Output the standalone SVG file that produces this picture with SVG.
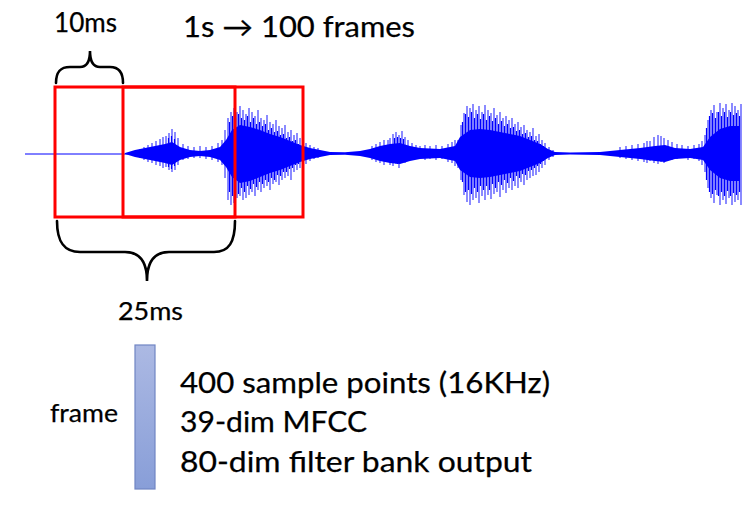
<svg xmlns="http://www.w3.org/2000/svg" width="750" height="506" viewBox="0 0 750 506">
<style>
.t{font-family:Lato,"Liberation Sans",sans-serif;fill:#000;stroke:#000;stroke-width:0.25;}
.frm{fill:none;stroke:#ff0000;stroke-width:3;}
.brace{fill:none;stroke:#000;stroke-width:2.6;stroke-linecap:round;}
.core{fill:#0000ff;}
.spk{fill:none;stroke:#0000ff;stroke-width:1.3;stroke-opacity:0.7;}
.spk2{fill:none;stroke:#0000ff;stroke-width:1.2;}
.flat{fill:none;stroke:#0000ff;stroke-width:1;}
</style>
<defs>
<linearGradient id="barg" x1="0" y1="0" x2="0" y2="1">
<stop offset="0" stop-color="#acb9e3"/>
<stop offset="1" stop-color="#889ed8"/>
</linearGradient>
</defs>
<rect width="750" height="506" fill="#fff"/>
<g id="waveform">
<path class="flat" d="M25,154 H128"/>
<path class="core" d="M125,153 L135,150 145,148 155,146 165,144 172,142 180,147 190,150 200,151 210,150 220,147 226,140 232,130 240,125 250,127 260,130 270,134 280,137 290,141 300,145 310,148 320,150 330,152 345,152.3 360,151 370,149 380,146 390,144 400,143 410,146 420,148 440,149 455,146 460,137 470,130 480,129 490,130 500,132 510,134 520,136 530,140 540,144 548,149 555,152 570,152.6 600,152 620,150 640,148 655,146 665,145 675,148 690,149 703,147 710,137 720,129 730,126 740,126 L740,181 730,181 720,178 710,170 703,160 690,158 675,159 665,162 655,161 640,159 620,157 600,155 570,154.4 555,155 548,158 540,163 530,167 520,171 510,173 500,175 490,177 480,178 470,177 460,170 455,161 440,158 420,159 410,161 400,164 390,163 380,161 370,158 360,156 345,154.7 330,155 320,157 310,159 300,162 290,166 280,170 270,173 260,177 250,181 240,183 232,177 226,167 220,160 210,157 200,156 190,157 180,160 172,165 165,163 155,161 145,159 135,157 125,154 Z"/>
<path class="spk" d="M140,149V158 M144,147V160 M148,145V162 M152,143V163 M156,141V165 M160,139V166 M163,137V168 M166,136V167 M169,133V170 M172,129V172 M175,132V170 M178,138V165 M183,144V160 M188,146V159 M194,147V158 M200,146V158 M206,147V159 M212,146V160 M218,143V162 M222,140V165 M225,130V178 M228,118V200 M231,112V205 M234,108V203 M237,112V198 M240,106V196 M243,110V200 M246,114V198 M249,108V195 M252,112V192 M255,116V196 M258,110V190 M261,118V192 M264,120V188 M267,115V186 M270,122V190 M273,124V184 M276,120V182 M279,126V185 M282,128V180 M285,125V178 M288,132V176 M291,130V180 M294,135V172 M297,133V170 M300,138V168 M303,140V166 M306,143V164 M310,145V161 M314,147V159 M318,148V158 M372,146V160 M376,144V162 M380,142V163 M384,140V165 M388,140V162 M390,138V165 M393,134V166 M396,132V164 M399,135V168 M402,131V163 M405,137V163 M408,140V161 M412,143V160 M416,145V159 M420,146V158 M425,145V160 M430,146V159 M436,145V160 M442,146V159 M448,144V162 M452,142V163 M455,140V166 M458,140V168 M461,125V180 M464,113V195 M467,106V202 M470,108V205 M473,104V200 M476,110V198 M479,106V203 M482,112V196 M485,105V200 M488,110V195 M491,113V199 M494,108V194 M497,115V192 M500,112V197 M503,118V190 M506,116V193 M509,120V188 M512,118V190 M515,124V186 M518,122V188 M521,127V182 M524,125V185 M527,130V180 M530,132V178 M533,128V176 M536,136V175 M539,134V172 M542,140V168 M545,143V165 M549,147V160 M553,150V157 M620,147V158 M626,146V159 M632,145V160 M638,144V161 M644,143V162 M647,141V163 M650,141V161 M654,137V163 M658,135V164 M661,136V162 M664,138V163 M668,140V160 M672,142V160 M677,144V159 M682,145V158 M688,146V160 M694,145V159 M699,144V161 M702,141V165 M705,135V172 M708,120V188 M711,110V198 M714,105V203 M717,112V195 M720,103V205 M723,108V200 M726,104V204 M729,110V198 M732,103V205 M735,106V202 M738,110V200 M741,104V205"/>
<path class="spk2" d="M168.5,138V167 M171.5,136V169 M174.5,139V166 M229.5,122V192 M232.5,116V196 M235.5,118V190 M238.5,114V194 M241.5,118V188 M244.5,120V192 M247.5,116V186 M250.5,122V189 M253.5,118V184 M256.5,124V187 M259.5,122V182 M262.5,126V184 M265.5,124V180 M268.5,130V182 M271.5,128V178 M274.5,132V180 M277.5,131V175 M280.5,135V176 M283.5,134V172 M286.5,138V172 M289.5,137V169 M292.5,141V168 M295.5,140V165 M298.5,144V164 M394.5,138V162 M397.5,137V164 M400.5,138V163 M403.5,139V162 M462.5,122V182 M465.5,114V192 M468.5,117V190 M471.5,112V194 M474.5,118V188 M477.5,114V192 M480.5,119V186 M483.5,114V190 M486.5,120V186 M489.5,116V190 M492.5,121V184 M495.5,118V188 M498.5,124V182 M501.5,121V185 M504.5,126V180 M507.5,124V183 M510.5,128V178 M513.5,127V181 M516.5,131V176 M519.5,130V178 M522.5,134V174 M525.5,133V175 M528.5,137V171 M531.5,136V170 M534.5,140V168 M537.5,141V166 M540.5,144V164 M543.5,146V161 M706.5,128V180 M709.5,116V192 M712.5,113V194 M715.5,118V190 M718.5,112V196 M721.5,116V192 M724.5,112V196 M727.5,117V191 M730.5,112V196 M733.5,115V193 M736.5,113V195 M739.5,116V192"/>
</g>
<g id="frames">
<rect class="frm" x="55" y="87" width="180" height="130"/>
<rect class="frm" x="123" y="87" width="180" height="130"/>
</g>
<g id="connectors">
<path class="brace" d="M56,83 C56,72 60,67 70,67 L80,67 C86,67 90,62 90,51 C90,62 94,67 100,67 L110,67 C118,67 123,72 123,83"/>
<path class="brace" d="M57,221 C57,242 64,252 80,252 L125,252 C140,252 147,262 147,281 C147,262 154,252 169,252 L214,252 C229,252 235,242 235,221"/>
</g>
<g id="label-10ms"><text class="t" x="54" y="32" font-size="26" textLength="63" lengthAdjust="spacingAndGlyphs">10ms</text></g>
<g id="title"><text class="t" x="183" y="37" font-size="28" textLength="232" lengthAdjust="spacingAndGlyphs">1s → 100 frames</text></g>
<g id="label-25ms"><text class="t" x="118" y="320" font-size="25" textLength="65" lengthAdjust="spacingAndGlyphs">25ms</text></g>
<g id="frame-bar">
<rect x="135" y="345" width="20" height="144" fill="url(#barg)" stroke="#7085c4" stroke-width="1.2"/>
</g>
<g id="label-frame"><text class="t" x="50" y="422" font-size="25" textLength="68" lengthAdjust="spacingAndGlyphs">frame</text></g>
<g id="features">
<text class="t" x="180" y="393" font-size="29" textLength="370" lengthAdjust="spacingAndGlyphs">400 sample points (16KHz)</text>
<text class="t" x="180" y="432" font-size="29" textLength="187" lengthAdjust="spacingAndGlyphs">39-dim MFCC</text>
<text class="t" x="180" y="472" font-size="29" textLength="352" lengthAdjust="spacingAndGlyphs">80-dim filter bank output</text>
</g>
</svg>
